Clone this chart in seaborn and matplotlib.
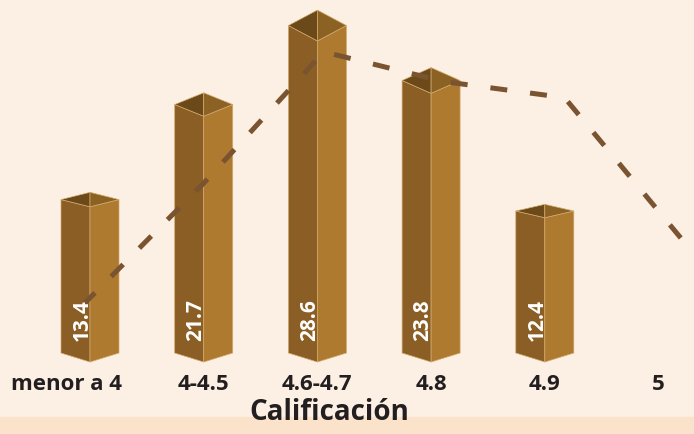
import matplotlib
matplotlib.use("Agg")
import matplotlib.pyplot as plt
import matplotlib.transforms as mtransforms
from matplotlib.patches import Polygon, Rectangle
import seaborn as sns

# ========= DATA =========
categorias = ["menor a 4", "4-4.5", "4.6-4.7", "4.8", "4.9", "5"]
porcentajes = [13.4, 21.7, 28.6, 23.8, 12.4]          # la categoría "5" no tiene barra
tendencia = [4.2, 14.8, 26.3, 23.7, 22.3, 9.6]        # línea punteada

# ========= STYLE =========
BG = "#fcefe3"
BAND = "#fbe3cb"
LEFT = "#8a5e24"
RIGHT = "#ae7a30"
TOP_L = "#6b4918"
TOP_R = "#8b6223"
EDGE = "#d2aa6c"
LINE = "#7a5430"
TXT = "#231f20"

W, H = 694, 434
PX = 11.45          # pixels per unit on y
BASE = 353          # pixel row of y = 0
AX_BOTTOM = 366     # pixel row of axes bottom

sns.set_theme(style="white")
plt.rcParams["font.family"] = ["Open Sans", "DejaVu Sans"]

fig = plt.figure(figsize=(W / 100, H / 100), dpi=100, facecolor=BG)
fig.patches.append(Rectangle((0, 0), 1, 17 / H, transform=fig.transFigure,
                             color=BAND, zorder=0))

ax = fig.add_axes([0, 1 - AX_BOTTOM / H, 1, AX_BOTTOM / H])
ax.set_facecolor("none")
ax.set_xlim(-90 / 113.7, (W - 90) / 113.7)
ax.set_ylim(-(AX_BOTTOM - BASE) / PX, BASE / PX)

hw = 29 / 113.7
db = 9 / PX
for i, v in enumerate(porcentajes):
    dt = v * 0.54 / PX
    xl, xc, xr = i - hw, i, i + hw
    faces = [
        ([(xl, v), (xc, v - dt), (xc, -db), (xl, 0)], LEFT),
        ([(xc, v - dt), (xr, v), (xr, 0), (xc, -db)], RIGHT),
        ([(xl, v), (xc, v + dt), (xc, v - dt)], TOP_L),
        ([(xc, v + dt), (xr, v), (xc, v - dt)], TOP_R),
    ]
    for pts, col in faces:
        ax.add_patch(Polygon(pts, closed=True, facecolor=col, edgecolor=EDGE,
                             linewidth=0.5, zorder=2))

ax.set_xticks(range(len(categorias)))
ax.set_xticklabels(categorias, fontsize=16, fontweight="bold", color=TXT)
ax.tick_params(axis="x", length=0, pad=6)
ax.set_yticks([])
sns.despine(ax=ax, left=True, bottom=True)
first = ax.get_xticklabels()[0]
first.set_transform(first.get_transform() +
                    mtransforms.ScaledTranslation(-0.23, 0, fig.dpi_scale_trans))

# dashed trend line on its own x scale
ax2 = ax.twiny()
ax2.set_xlim(-83 / 120.4, (W - 83) / 120.4)
sns.lineplot(x=list(range(len(tendencia))), y=tendencia, ax=ax2, color=LINE,
             linewidth=3.6, linestyle=(0, (3.4, 4.6)), zorder=3)
ax2.set_xticks([])
ax2.set_ylabel("")
for s in ax2.spines.values():
    s.set_visible(False)

# value labels inside the bars
for i, v in enumerate(porcentajes):
    ax2.text(i - 8 / 113.7, 2.9, f"{v}", transform=ax.transData, rotation=90,
             ha="center", va="center", color="white", fontsize=15,
             fontweight="bold", zorder=5)

fig.text(329 / W, 1 - 413 / H, "Calificación", ha="center", va="center",
         fontsize=20, fontweight="bold", color=TXT)

fig.savefig("out.png", dpi=100, facecolor=BG)
